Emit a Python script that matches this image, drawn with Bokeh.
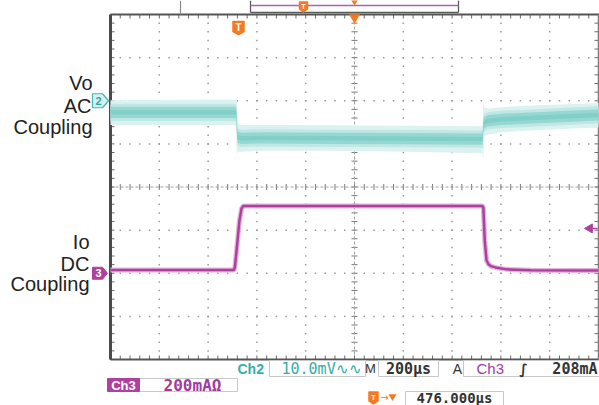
import numpy as np
from bokeh.plotting import figure
from bokeh.models import Range1d
from bokeh.core.properties import value
from bokeh.embed import file_html
from bokeh.resources import INLINE

# ---------------- data ----------------
time_per_div = 200.0      # us / div
horiz_pos = 476.0         # us, trigger -> screen centre
ch2_scale = 10.0          # mV / div
ch2_offset_div = 2.0      # ground marker "2"
ch3_scale = 200.0         # mA / div
ch3_offset_div = -2.0     # ground marker "3"
trig_level = 208.0        # mA

# Vo (Ch2, AC coupling) : time (us), centre, upper and lower noise envelope (mV)
vo_t   = [-524, -20, -9, -7, -5, -2, 12, 100, 400, 700, 990, 1001, 1003, 1005, 1009, 1025, 1080, 1200, 1350, 1476]
vo_mid = [-2.7, -2.7, -2.8, -4.5, -7.5, -8.5, -8.7, -8.6, -8.7, -8.8, -8.9, -8.9, -7.0, -5.4, -5.0, -4.6, -4.3, -4.0, -3.6, -3.3]
vo_hi  = [0.1, 0.3, 0.3, 0.8, -3.0, -5.2, -5.6, -5.6, -5.7, -5.8, -5.9, -5.9, -0.3, -0.8, -1.6, -1.8, -1.5, -1.1, -0.8, -0.5]
vo_lo  = [-5.6, -5.6, -5.8, -12.0, -12.2, -11.9, -11.8, -11.6, -11.6, -11.8, -12.2, -12.2, -14.0, -12.0, -8.2, -7.8, -7.3, -6.9, -6.5, -6.2]

# Io (Ch3, DC coupling) : time (us), current (mA)
io_t = [-524, -18, -14, -6, 4, 13, 20, 1000, 1004, 1010, 1017, 1025, 1035, 1060, 1100, 1200, 1476]
io_ma = [15, 15, 30, 120, 240, 300, 312, 312, 305, 150, 60, 42, 33, 25, 18, 14, 13]

# ---------------- geometry helpers (screen layout) ----------------
PX_X = 48.8     # px per horizontal division
PX_Y = 43.125   # px per vertical division
def X(px):
    return (px - 110.0) / PX_X
def Y(py):
    return (186.5 - py) / PX_Y

W, H = 599, 405
x0d, x1d = X(0), X(W)
y0d, y1d = Y(H), Y(0)

p = figure(width=W, height=H, x_range=Range1d(x0d, x1d), y_range=Range1d(y0d, y1d),
           output_backend="svg", toolbar_location=None, min_border=0,
           x_axis_location=None, y_axis_location=None)
p.grid.visible = False
p.outline_line_color = None
p.background_fill_color = "white"
p.border_fill_color = "white"

t0 = horiz_pos - 5 * time_per_div
p.extra_x_ranges = {"us": Range1d(t0 + x0d * time_per_div, t0 + x1d * time_per_div)}
p.extra_y_ranges = {
    "mv": Range1d((y0d - ch2_offset_div) * ch2_scale, (y1d - ch2_offset_div) * ch2_scale),
    "ma": Range1d((y0d - ch3_offset_div) * ch3_scale, (y1d - ch3_offset_div) * ch3_scale),
}

# ---------------- graticule ----------------
GRID = "#9a9a9a"
mx = np.round(np.arange(0, 10.0001, 0.2), 4)
my = np.round(np.arange(-4, 4.0001, 0.2), 4)
dx, dy = [], []
for gx in range(1, 10):
    if gx == 5:
        continue
    for v in my[1:-1]:
        dx.append(gx); dy.append(v)
for gy in range(-3, 4):
    if gy == 0:
        continue
    for v in mx[1:-1]:
        dx.append(v); dy.append(gy)
p.scatter(dx, dy, marker="square", size=1.5, color=GRID, line_color=None)

# centre lines with minor ticks
tx, ty = 3 / PX_X, 3 / PX_Y
p.segment(x0=[5 - tx] * len(my), y0=list(my), x1=[5 + tx] * len(my), y1=list(my), line_color="#7a7a7a", line_width=1)
p.segment(x0=list(mx), y0=[-ty] * len(mx), x1=list(mx), y1=[ty] * len(mx), line_color="#7a7a7a", line_width=1)
p.segment(x0=[0], y0=[0], x1=[10], y1=[0], line_color="#a0a0a0", line_width=1, line_dash="3 2")
p.segment(x0=[5], y0=[-4], x1=[5], y1=[4], line_color="#a0a0a0", line_width=1, line_dash="3 2")

# frame ticks
tl_x, tl_y = 4 / PX_X, 4 / PX_Y
p.segment(x0=list(mx), y0=[4] * len(mx), x1=list(mx), y1=[4 - tl_y] * len(mx), line_color="#6a6a6a")
p.segment(x0=list(mx), y0=[-4] * len(mx), x1=list(mx), y1=[-4 + tl_y] * len(mx), line_color="#6a6a6a")
p.segment(x0=[0] * len(my), y0=list(my), x1=[tl_x] * len(my), y1=list(my), line_color="#6a6a6a")
p.segment(x0=[10] * len(my), y0=list(my), x1=[10 - tl_x] * len(my), y1=list(my), line_color="#6a6a6a")

# frame border
p.segment(x0=[0], y0=[4], x1=[X(599)], y1=[4], line_color="#555555", line_width=2)
p.segment(x0=[0], y0=[-4], x1=[10], y1=[-4], line_color="#555555", line_width=2)
p.segment(x0=[0], y0=[-4], x1=[0], y1=[4], line_color="#4a4a4a", line_width=3)
p.segment(x0=[10], y0=[-4], x1=[10], y1=[4], line_color="#7a7a7a", line_width=1.5)

# ---------------- waveforms ----------------
core = 1.3
vmid = np.array(vo_mid)
p.varea(x=vo_t, y1=vo_lo, y2=vo_hi, fill_color="#dcf2f0", x_range_name="us", y_range_name="mv")
p.varea(x=vo_t, y1=list(vmid - core - 0.7), y2=list(vmid + core + 0.7), fill_color="#bfe7e3",
        x_range_name="us", y_range_name="mv")
p.varea(x=vo_t, y1=list(vmid - core), y2=list(vmid + core), fill_color="#96d7d1", x_range_name="us", y_range_name="mv")
p.varea(x=vo_t, y1=list(vmid - 0.5), y2=list(vmid + 0.5), fill_color="#80cfc8", x_range_name="us", y_range_name="mv")

MAG = "#b0409f"
p.line(io_t, io_ma, line_color="#e2b4dc", line_width=5, x_range_name="us", y_range_name="ma")
p.line(io_t, io_ma, line_color=MAG, line_width=2.5, x_range_name="us", y_range_name="ma")

# trigger level arrow (right edge)
p.scatter([t0 + 9.82 * time_per_div], [trig_level], marker="triangle", angle=np.pi / 2, size=9,
          color=MAG, x_range_name="us", y_range_name="ma")
p.segment(x0=[t0 + 9.82 * time_per_div], y0=[trig_level], x1=[t0 + 9.98 * time_per_div], y1=[trig_level],
          line_color=MAG, line_width=1.5, x_range_name="us", y_range_name="ma")

# ---------------- channel markers ----------------
mw, mh = 16 / PX_X, 7 / PX_Y
xl = X(92)
p.patch([xl, xl + 10 / PX_X, xl + mw, xl + 10 / PX_X, xl],
        [ch2_offset_div + mh, ch2_offset_div + mh, ch2_offset_div, ch2_offset_div - mh, ch2_offset_div - mh],
        fill_color="#d6f1ef", line_color="#45b8b2", line_width=1.2)
p.text([xl + 6 / PX_X], [ch2_offset_div], text=["2"], text_font=value("Liberation Sans"), text_font_style="bold",
       text_font_size="11px", text_color="#2fa9a3", text_align="center", text_baseline="middle")
p.patch([xl, xl + 10 / PX_X, xl + 15 / PX_X, xl + 10 / PX_X, xl],
        [ch3_offset_div + 6 / PX_Y, ch3_offset_div + 6 / PX_Y, ch3_offset_div, ch3_offset_div - 6 / PX_Y, ch3_offset_div - 6 / PX_Y],
        fill_color=MAG, line_color=MAG)
p.text([xl + 6 / PX_X], [ch3_offset_div], text=["3"], text_font=value("Liberation Sans"), text_font_style="bold",
       text_font_size="11px", text_color="white", text_align="center", text_baseline="middle")

# ---------------- side labels ----------------
p.text([X(92), X(91), X(92)], [Y(82), Y(105), Y(126)], text=["Vo", "AC", "Coupling"],
       text_font=value("Liberation Sans"), text_font_size="20px", text_color="#222222",
       text_align="right", text_baseline="alphabetic")
p.text([X(89), X(89), X(89)], [Y(241), Y(263), Y(283)], text=["Io", "DC", "Coupling"],
       text_font=value("Liberation Sans"), text_font_size="20px", text_color="#222222",
       text_align="right", text_baseline="alphabetic")

# ---------------- trigger / record markers ----------------
ORANGE = "#f47a20"
def badge(cx, cy, w, h, letter, fs):
    p.patch([X(cx - w / 2), X(cx + w / 2), X(cx + w / 2), X(cx), X(cx - w / 2)],
            [Y(cy - h / 2), Y(cy - h / 2), Y(cy + h / 2 - 2), Y(cy + h / 2 + 1), Y(cy + h / 2 - 2)],
            fill_color=ORANGE, line_color=ORANGE, line_join="round", line_width=1.5)
    p.text([X(cx)], [Y(cy - 0.5)], text=[letter], text_font=value("Liberation Sans"), text_font_style="bold",
           text_font_size=fs, text_color="white", text_align="center", text_baseline="middle")

badge(238, 27, 11, 12, "T", "10px")
# top record-length box
p.segment(x0=[X(180)], y0=[Y(0)], x1=[X(180)], y1=[Y(14)], line_color="#8a8a8a", line_width=1.2)
p.segment(x0=[X(250), X(458), X(250)], y0=[Y(0), Y(0), Y(12)], x1=[X(250), X(458), X(458)], y1=[Y(12), Y(12), Y(12)],
          line_color="#5a5a5a", line_width=1.3)
p.segment(x0=[X(250)], y0=[Y(5)], x1=[X(458)], y1=[Y(5)], line_color="#b060b0", line_width=1.5)
badge(303, 6, 8, 9, "T", "8px")
p.scatter([5, 5], [4 - 3 / PX_Y, Y(0)], marker="inverted_triangle", size=[11, 9], color=ORANGE, line_color=None)

# ---------------- status bar ----------------
MONO = value("DejaVu Sans Mono")
SANS = value("Liberation Sans")
TEALT = "#35aea8"
BOXC = "#c8c8c8"

def box(xa, xb, ya, yb):
    p.quad(left=[X(xa)], right=[X(xb)], top=[Y(ya)], bottom=[Y(yb)], fill_color="white", line_color=BOXC, line_width=1)

box(269, 365, 360, 376)
box(378, 438, 360, 376)
box(463, 600, 360, 376)
box(139, 237, 378, 391)
box(405, 503, 391, 406)
p.quad(left=[X(107)], right=[X(139)], top=[Y(378)], bottom=[Y(391)], fill_color=MAG, line_color=MAG)

p.text([X(237)], [Y(368)], text=["Ch2"], text_font=SANS, text_font_style="bold", text_font_size="14px",
       text_color=TEALT, text_align="left", text_baseline="middle")
p.text([X(281)], [Y(368)], text=["10.0mV∿∿"], text_font=MONO, text_font_size="15px",
       text_color=TEALT, text_align="left", text_baseline="middle")
p.text([X(370)], [Y(368)], text=["M"], text_font=SANS, text_font_size="13px",
       text_color="#333333", text_align="center", text_baseline="middle")
p.text([X(408)], [Y(368)], text=["200µs"], text_font=MONO, text_font_style="bold", text_font_size="15px",
       text_color="#333333", text_align="center", text_baseline="middle")
p.text([X(457)], [Y(368)], text=["A"], text_font=SANS, text_font_size="14px",
       text_color="#333333", text_align="center", text_baseline="middle")
p.text([X(476)], [Y(368)], text=["Ch3"], text_font=SANS, text_font_size="15px",
       text_color="#a03ca0", text_align="left", text_baseline="middle")
p.text([X(523)], [Y(368)], text=["∫"], text_font=value("DejaVu Sans"), text_font_style="bold", text_font_size="14px",
       text_color="#333333", text_align="center", text_baseline="middle")
p.text([X(597)], [Y(368)], text=["208mA"], text_font=MONO, text_font_style="bold", text_font_size="15px",
       text_color="#333333", text_align="right", text_baseline="middle")

p.text([X(123)], [Y(384.5)], text=["Ch3"], text_font=SANS, text_font_style="bold", text_font_size="13px",
       text_color="white", text_align="center", text_baseline="middle")
p.text([X(192)], [Y(384.5)], text=["200mAΩ"], text_font=MONO, text_font_style="bold", text_font_size="16px",
       text_color="#a03ca0", text_align="center", text_baseline="middle")

badge(373, 397, 9, 11, "T", "8px")
p.text([X(384)], [Y(397)], text=["→"], text_font=value("DejaVu Sans"), text_font_size="10px",
       text_color=ORANGE, text_align="center", text_baseline="middle")
p.scatter([X(392)], [Y(396)], marker="inverted_triangle", size=8, color=ORANGE, line_color=None)
p.text([X(454)], [Y(397)], text=["476.000µs"], text_font=MONO, text_font_style="bold", text_font_size="14px",
       text_color="#333333", text_align="center", text_baseline="middle")

open("out.html", "w").write(file_html(p, INLINE))
